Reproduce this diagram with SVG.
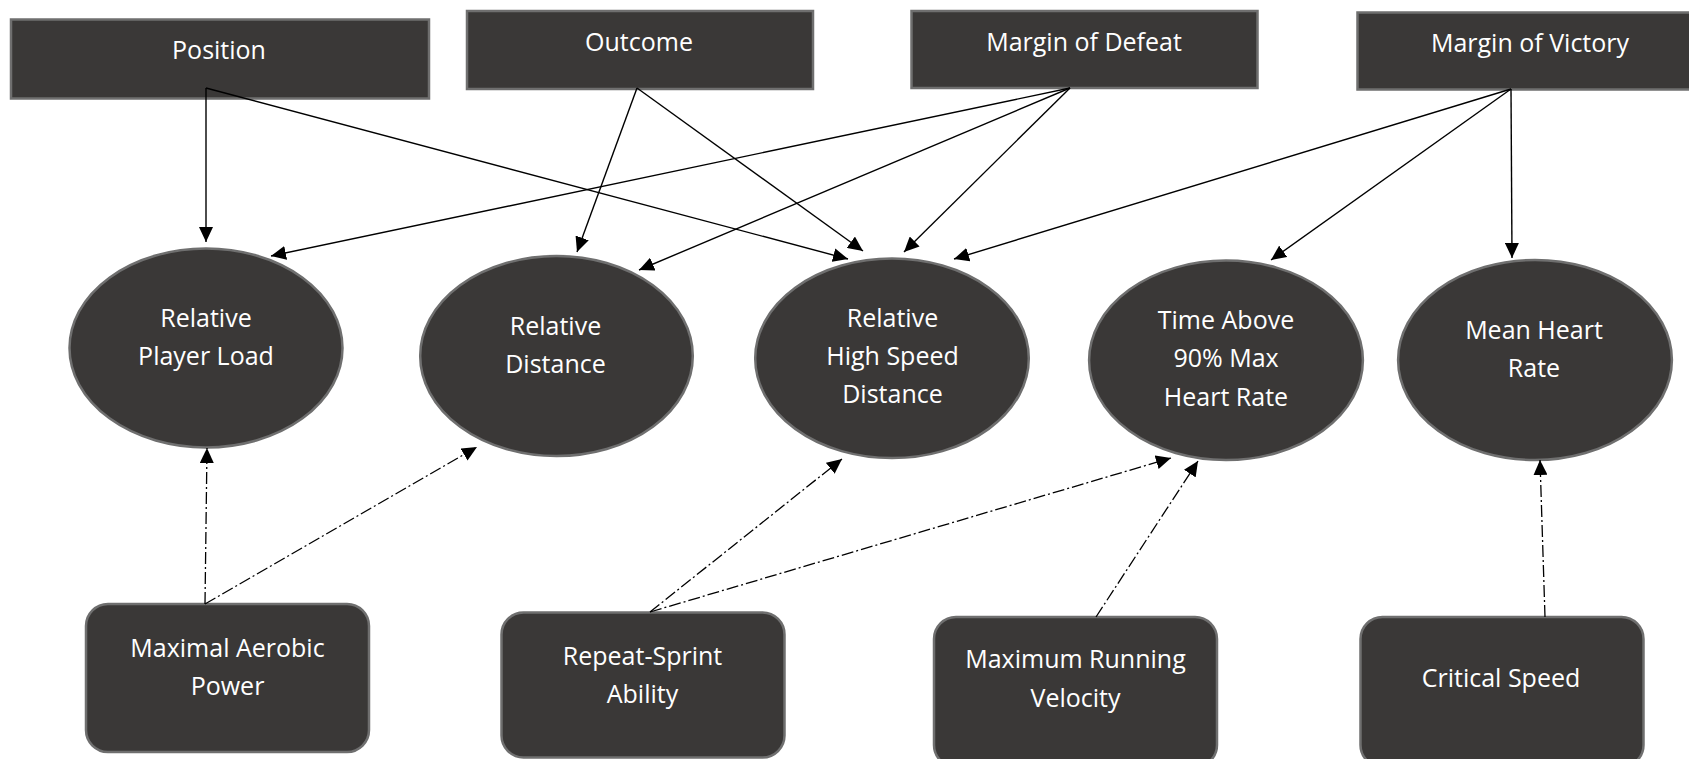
<svg xmlns="http://www.w3.org/2000/svg" width="1689" height="759" viewBox="0 0 1689 759">
<defs>
<style>
.box{fill:#3a3837;stroke:#6f6f6f;stroke-width:2.5}
.t{fill:#ffffff;font-family:"Open Sans","Liberation Sans",sans-serif;font-size:25px;text-anchor:middle}
.s{fill:none;stroke:#000;stroke-width:1.4;marker-end:url(#ah)}
.d{fill:none;stroke:#000;stroke-width:1.3;stroke-dasharray:12 3 2 3;marker-end:url(#ah)}
</style>
<marker id="ah" markerUnits="userSpaceOnUse" markerWidth="16" markerHeight="14" refX="15" refY="7" orient="auto">
<path d="M0,0 L15,7 L0,14 z" fill="#000"/>
</marker>
</defs>
<rect width="1689" height="759" fill="#ffffff"/>

<g id="position"><rect class="box" x="11" y="19.5" width="418" height="79"/><text class="t" x="219" y="59">Position</text></g>
<g id="outcome"><rect class="box" x="467" y="11" width="346" height="78"/><text class="t" x="639" y="51">Outcome</text></g>
<g id="margin-defeat"><rect class="box" x="911.5" y="11" width="346" height="77"/><text class="t" x="1084" y="51">Margin of Defeat</text></g>
<g id="margin-victory"><rect class="box" x="1357.5" y="12.5" width="335" height="77"/><text class="t" x="1530" y="52">Margin of Victory</text></g>

<g id="rel-player-load"><ellipse class="box" cx="206" cy="348" rx="136.5" ry="99.5"/><text class="t" x="206" y="327">Relative</text><text class="t" x="206" y="365">Player Load</text></g>
<g id="rel-distance"><ellipse class="box" cx="556.5" cy="356" rx="136.3" ry="100"/><text class="t" x="555.5" y="335">Relative</text><text class="t" x="555.5" y="373">Distance</text></g>
<g id="rel-hsd"><ellipse class="box" cx="892" cy="358.3" rx="136.8" ry="99.8"/><text class="t" x="892.5" y="327">Relative</text><text class="t" x="892.5" y="365">High Speed</text><text class="t" x="892.5" y="403">Distance</text></g>
<g id="time-above"><ellipse class="box" cx="1226" cy="360.3" rx="136.9" ry="99.7"/><text class="t" x="1226" y="329">Time Above</text><text class="t" x="1226" y="367">90% Max</text><text class="t" x="1226" y="405.5">Heart Rate</text></g>
<g id="mean-hr"><ellipse class="box" cx="1535" cy="360" rx="136.9" ry="100"/><text class="t" x="1534" y="339">Mean Heart</text><text class="t" x="1534" y="376.5">Rate</text></g>

<g id="map"><rect class="box" x="86" y="604" width="283" height="148" rx="22" ry="22"/><text class="t" x="227.5" y="656.5">Maximal Aerobic</text><text class="t" x="227.5" y="695">Power</text></g>
<g id="rsa"><rect class="box" x="501.5" y="612.5" width="283" height="145" rx="22" ry="22"/><text class="t" x="642.5" y="665">Repeat-Sprint</text><text class="t" x="642.5" y="703">Ability</text></g>
<g id="mrv"><rect class="box" x="934" y="617" width="283" height="150" rx="22" ry="22"/><text class="t" x="1075.5" y="668">Maximum Running</text><text class="t" x="1075.5" y="706.5">Velocity</text></g>
<g id="cs"><rect class="box" x="1360.5" y="617" width="283" height="150" rx="22" ry="22"/><text class="t" x="1501" y="686.5">Critical Speed</text></g>

<g id="connectors">
<line class="s" x1="206" y1="88" x2="206" y2="242"/>
<line class="s" x1="206" y1="88" x2="848" y2="259"/>
<line class="s" x1="637" y1="88" x2="577" y2="252"/>
<line class="s" x1="637" y1="88" x2="863" y2="251"/>
<line class="s" x1="1070" y1="88" x2="271" y2="256"/>
<line class="s" x1="1070" y1="88" x2="639" y2="270"/>
<line class="s" x1="1070" y1="88" x2="904" y2="252"/>
<line class="s" x1="1511" y1="89" x2="954" y2="259"/>
<line class="s" x1="1511" y1="89" x2="1271" y2="260"/>
<line class="s" x1="1511" y1="89" x2="1512" y2="258"/>
<line class="d" x1="205" y1="604" x2="207" y2="448"/>
<line class="d" x1="205" y1="604" x2="477" y2="447"/>
<line class="d" x1="650" y1="612" x2="842" y2="459"/>
<line class="d" x1="650" y1="612" x2="1171" y2="458"/>
<line class="d" x1="1096" y1="617" x2="1198" y2="461"/>
<line class="d" x1="1545" y1="617" x2="1540" y2="460"/>
</g>
</svg>
